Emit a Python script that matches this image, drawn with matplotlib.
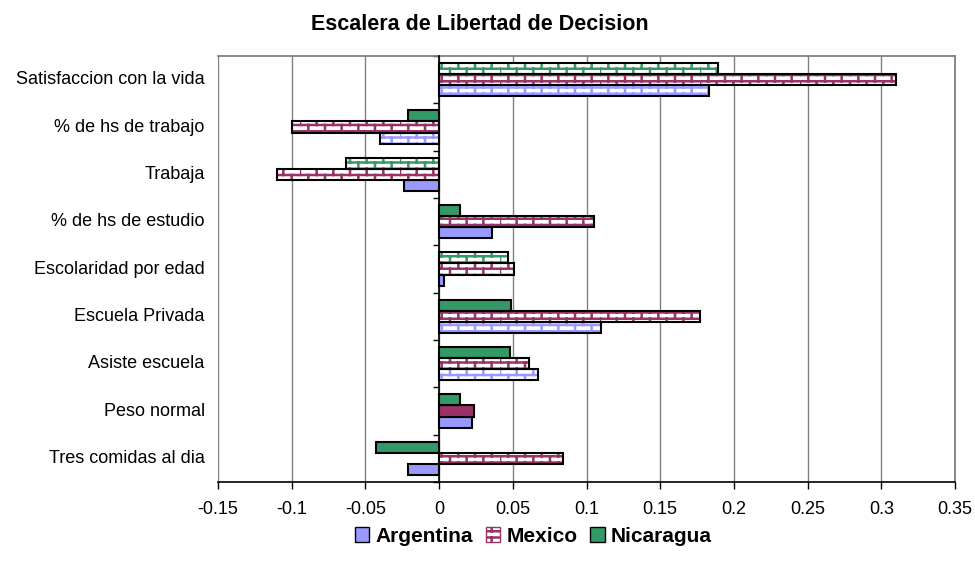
import numpy as np
import matplotlib
matplotlib.use("Agg")
import matplotlib.pyplot as plt
import matplotlib.hatch as mhatch
from matplotlib.path import Path
from matplotlib.patches import Patch

# ---------------- data ----------------
categories = ["Satisfaccion con la vida", "% de hs de trabajo", "Trabaja",
              "% de hs de estudio", "Escolaridad por edad", "Escuela Privada",
              "Asiste escuela", "Peso normal", "Tres comidas al dia"]
series_names = ["Argentina", "Mexico", "Nicaragua"]
argentina = [0.183, -0.040, -0.024, 0.036, 0.003, 0.110, 0.067, 0.022, -0.021]
mexico    = [0.310, -0.100, -0.110, 0.105, 0.051, 0.177, 0.061, 0.024, 0.084]
nicaragua = [0.189, -0.021, -0.063, 0.014, 0.047, 0.049, 0.048, 0.014, -0.043]
# True = brick-patterned bar, False = solid bar
argentina_pat = [True, True, False, False, False, True, True, False, False]
mexico_pat    = [True, True, True, True, True, True, True, False, True]
nicaragua_pat = [True, False, True, False, True, False, False, False, False]
xticks = [-0.15, -0.1, -0.05, 0, 0.05, 0.1, 0.15, 0.2, 0.25, 0.3, 0.35]
xtick_labels = ["-0.15", "-0.1", "-0.05", "0", "0.05", "0.1", "0.15", "0.2", "0.25", "0.3", "0.35"]
colors = ["#9999FF", "#993366", "#339966"]
title = "Escalera de Libertad de Decision"


# ------------- custom brick hatch -------------
class BrickHatch(mhatch.HatchPatternBase):
    nrows = 16
    ncols = 6

    def __init__(self, hatch, density):
        self.on = 'b' in hatch
        self.num_vertices = (self.nrows * 2 + self.nrows * self.ncols * 2) if self.on else 0

    def set_vertices_and_codes(self, vertices, codes):
        v = []
        c = []
        for r in range(self.nrows):
            y = r / self.nrows
            v += [(0.0, y), (1.0, y)]
            c += [Path.MOVETO, Path.LINETO]
            off = 0.5 / self.ncols if r % 2 else 0.0
            for k in range(self.ncols):
                x = k / self.ncols + off
                v += [(x, y), (x, y + 1.0 / self.nrows)]
                c += [Path.MOVETO, Path.LINETO]
        vertices[:] = np.array(v)
        codes[:] = np.array(c)


mhatch._hatch_types.insert(0, BrickHatch)
mhatch._validate_hatch_pattern = lambda h: None

plt.rcParams['font.family'] = ['Liberation Sans', 'DejaVu Sans']
plt.rcParams['hatch.linewidth'] = 1.8

fig = plt.figure(figsize=(9.75, 5.74), dpi=100)
ax = fig.add_axes([218 / 975, 1 - 482 / 574, (955 - 218) / 975, (482 - 56) / 574])

n = len(categories)
ypos = np.arange(n)
bh = 0.235
all_vals = [argentina, mexico, nicaragua]
all_pat = [argentina_pat, mexico_pat, nicaragua_pat]
offsets = [bh, 0.0, -bh]  # Argentina bottom, Mexico middle, Nicaragua top (axis inverted)

for vals, pats, col, off in zip(all_vals, all_pat, colors, offsets):
    for i in range(n):
        if pats[i]:
            ax.barh(ypos[i] + off, vals[i], height=bh, color="white", edgecolor=col,
                    hatch="b", linewidth=0, zorder=3)
            ax.barh(ypos[i] + off, vals[i], height=bh, fill=False, edgecolor="black",
                    linewidth=1.5, zorder=4)
        else:
            ax.barh(ypos[i] + off, vals[i], height=bh, color=col, edgecolor="black",
                    linewidth=1.5, zorder=3)

ax.set_xlim(-0.15, 0.35)
ax.set_ylim(n - 0.5, -0.5)
ax.set_xticks(xticks)
ax.set_xticklabels(xtick_labels, fontsize=13)
ax.tick_params(axis='x', direction='out', length=5, width=1, pad=9, colors='black')
ax.xaxis.grid(True, color='#808080', linewidth=1)
ax.set_axisbelow(True)

# category axis at x=0
ax.spines['left'].set_position(('data', 0))
ax.spines['left'].set_color('black')
ax.spines['left'].set_linewidth(1.2)
ax.spines['left'].set_zorder(5)
ax.set_yticks(ypos)
ax.set_yticklabels([])
ax.tick_params(axis='y', which='major', length=0)
ax.set_yticks(np.arange(n + 1) - 0.5, minor=True)
ax.tick_params(axis='y', which='minor', length=4, width=1, direction='out')
for sp in ['top', 'right']:
    ax.spines[sp].set_color('#808080')
    ax.spines[sp].set_linewidth(1.3)
ax.spines['bottom'].set_color('black')
ax.spines['bottom'].set_linewidth(1.2)

for i, cat in enumerate(categories):
    ax.text(-0.018, ypos[i], cat, transform=ax.get_yaxis_transform(),
            ha='right', va='center', fontsize=13)

# left gray border (plot area)
ax.axvline(-0.15, color='#808080', linewidth=1.3, zorder=1)

fig.text(0.492, 1 - 24 / 574, title, ha='center', va='center', fontsize=15.5, fontweight='bold')

handles = [Patch(facecolor=colors[0], edgecolor='black', linewidth=1),
           Patch(facecolor='white', edgecolor=colors[1], hatch='b', linewidth=1),
           Patch(facecolor=colors[2], edgecolor='black', linewidth=1)]
leg = fig.legend(handles, series_names, loc='center', bbox_to_anchor=(0.547, 1 - 536 / 574),
                 ncol=3, frameon=False, prop={'weight': 'bold', 'size': 15},
                 handlelength=0.7, handleheight=0.7, handletextpad=0.3, columnspacing=0.6)

fig.savefig("out.png", dpi=100)
